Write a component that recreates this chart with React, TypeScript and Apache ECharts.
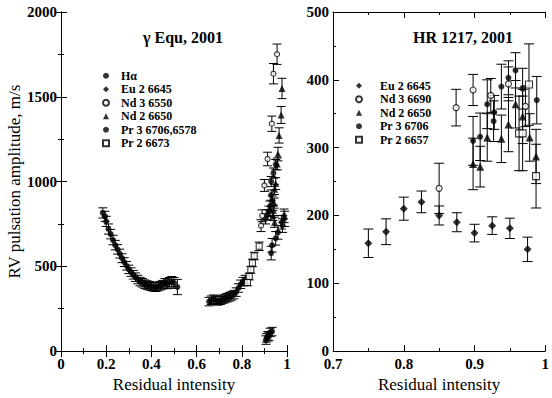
import React, { useEffect, useRef } from 'react';
import * as echarts from 'echarts';

const FONT = '"Liberation Serif", "Times New Roman", serif';

// ---- γ Equ, 2001 (left panel): [residual intensity, RV amplitude m/s, error] ----
const equHalpha: number[][] = [
  [0.185, 815, 30], [0.195, 795, 30], [0.2, 765, 30], [0.21, 720, 30], [0.22, 690, 28],
  [0.23, 655, 28], [0.24, 625, 28], [0.25, 600, 28], [0.26, 575, 26], [0.27, 548, 26],
  [0.28, 525, 26], [0.29, 503, 25], [0.3, 482, 25], [0.31, 466, 25], [0.32, 450, 25],
  [0.33, 436, 25], [0.34, 422, 25], [0.35, 410, 25], [0.36, 403, 25], [0.37, 395, 25],
  [0.38, 390, 25], [0.39, 386, 25], [0.4, 382, 25], [0.41, 379, 25], [0.42, 377, 25],
  [0.43, 381, 25], [0.44, 386, 25], [0.45, 392, 25], [0.46, 400, 28], [0.47, 396, 28],
  [0.48, 406, 28], [0.49, 410, 30], [0.5, 402, 32], [0.515, 378, 45],
  [0.655, 292, 25], [0.665, 300, 25], [0.675, 306, 25], [0.685, 300, 25], [0.695, 296, 25],
  [0.705, 300, 25], [0.715, 305, 25], [0.725, 310, 25], [0.735, 315, 25], [0.745, 320, 25],
  [0.755, 326, 25], [0.765, 333, 25], [0.775, 348, 25], [0.785, 372, 25], [0.795, 394, 25],
  [0.805, 410, 25], [0.815, 422, 25],
  [0.905, 780, 30], [0.915, 805, 30], [0.92, 825, 30], [0.925, 855, 30], [0.93, 920, 30],
  [0.935, 885, 30], [0.93, 1000, 30], [0.94, 1050, 30], [0.95, 1100, 30],
];
const equEu: number[][] = [
  [0.975, 760, 40], [0.98, 740, 40], [0.987, 798, 40], [0.99, 780, 45],
];
const equNd3: number[][] = [
  [0.956, 1751, 60], [0.94, 1636, 60], [0.933, 1341, 45], [0.914, 1133, 40],
  [0.9, 977, 35], [0.89, 798, 35], [0.885, 740, 35],
];
const equNd2: number[][] = [
  [0.978, 1549, 60], [0.974, 1393, 50], [0.965, 1272, 45], [0.96, 1162, 40],
  [0.957, 1104, 35], [0.95, 988, 35], [0.945, 954, 30], [0.943, 873, 30],
  [0.94, 830, 30], [0.938, 800, 30], [0.945, 760, 30],
];
const equPr3: number[][] = [
  [0.934, 624, 40], [0.93, 578, 40], [0.95, 665, 40], [0.96, 700, 40],
  [0.907, 65, 25], [0.91, 78, 25], [0.915, 90, 25], [0.92, 86, 25], [0.925, 110, 25], [0.934, 115, 25],
];
const equPr2: number[][] = [
  [0.825, 405, 20], [0.833, 440, 20], [0.84, 480, 20], [0.847, 520, 22],
  [0.855, 561, 22], [0.877, 618, 25],
];

// ---- HR 1217, 2001 (right panel) ----
const hrEu: number[][] = [
  [0.75, 159, 21], [0.775, 176, 19], [0.8, 210, 17], [0.825, 220, 16], [0.85, 200, 14],
  [0.875, 190, 14], [0.9, 174, 13], [0.925, 185, 13], [0.95, 181, 15], [0.975, 150, 18],
];
const hrNd3: number[][] = [
  [0.85, 240, 37], [0.874, 359, 27], [0.898, 385, 23], [0.923, 377, 25], [0.948, 394, 25], [0.972, 361, 30],
];
const hrNd2: number[][] = [
  [0.898, 276, 38], [0.908, 272, 30], [0.918, 315, 35], [0.938, 313, 35], [0.948, 334, 40],
  [0.958, 364, 35], [0.968, 346, 40], [0.978, 315, 35], [0.987, 287, 40],
];
const hrPr3: number[][] = [
  [0.898, 310, 36], [0.908, 316, 35], [0.918, 364, 36], [0.927, 339, 30], [0.928, 352, 25],
  [0.938, 390, 33], [0.948, 403, 25], [0.958, 414, 26], [0.968, 387, 30], [0.988, 370, 35],
];
const hrPr2: number[][] = [
  [0.963, 321, 55], [0.968, 321, 55], [0.977, 393, 60], [0.987, 258, 47],
];

const leftLegend = ['Hα', 'Eu 2 6645', 'Nd 3 6550', 'Nd 2 6650', 'Pr 3 6706,6578', 'Pr 2 6673'];
const rightLegend = ['Eu 2 6645', 'Nd 3 6690', 'Nd 2 6650', 'Pr 3 6706', 'Pr 2 6657'];

const filled = { color: '#000' };
const open = { color: '#fff', borderColor: '#000', borderWidth: 1.1 };

function makeSeries(name: string, data: number[][], panel: number, symbol: string, size: number, style: any, cap: number) {
  const ax = panel === 0 ? { xAxisIndex: 0, yAxisIndex: 0 } : { xAxisIndex: 2, yAxisIndex: 2 };
  return [
    {
      type: 'custom', name: name + '_err', ...ax, data, encode: { x: 0, y: 1 }, z: 1, silent: true,
      renderItem: (params: any, api: any) => {
        const x = api.value(0), y = api.value(1), e = api.value(2);
        const t = api.coord([x, y + e]);
        const b = api.coord([x, y - e]);
        const hw = cap / 2;
        const st = { stroke: '#000', lineWidth: 1 };
        return {
          type: 'group',
          children: [
            { type: 'line', shape: { x1: t[0], y1: t[1], x2: b[0], y2: b[1] }, style: st },
            { type: 'line', shape: { x1: t[0] - hw, y1: t[1], x2: t[0] + hw, y2: t[1] }, style: st },
            { type: 'line', shape: { x1: b[0] - hw, y1: b[1], x2: b[0] + hw, y2: b[1] }, style: st },
          ],
        };
      },
    },
    { type: 'scatter', name, ...ax, data: data.map((d) => [d[0], d[1]]), symbol, symbolSize: size, itemStyle: style, z: 3 },
  ];
}

const axisLine = { show: true, lineStyle: { color: '#000', width: 1 } };
const tick = { show: true, inside: true, length: 6, lineStyle: { color: '#000' } };
const minor = { show: true, splitNumber: 2, length: 3, lineStyle: { color: '#000' } };
const label = { color: '#000', fontFamily: FONT, fontSize: 15, fontWeight: 'bold' as const, formatter: (v: number) => String(v) };
const nameStyle = { color: '#000', fontFamily: FONT, fontSize: 17 };

export default function App() {
  const ref = useRef<HTMLDivElement>(null);
  useEffect(() => {
    document.body.style.margin = '0';
    const chart = echarts.init(ref.current!, null, { renderer: 'svg' });
    const series: any[] = [
      ...makeSeries('Hα', equHalpha, 0, 'circle', 6, filled, 9),
      ...makeSeries('Eu 2 6645', equEu, 0, 'diamond', 7, filled, 9),
      ...makeSeries('Nd 3 6550', equNd3, 0, 'circle', 5, open, 9),
      ...makeSeries('Nd 2 6650', equNd2, 0, 'triangle', 7, filled, 9),
      ...makeSeries('Pr 3 6706,6578', equPr3, 0, 'circle', 6, filled, 9),
      ...makeSeries('Pr 2 6673', equPr2, 0, 'rect', 6, open, 9),
      ...makeSeries('Eu 2 6645', hrEu, 1, 'diamond', 8, filled, 10),
      ...makeSeries('Nd 3 6690', hrNd3, 1, 'circle', 6, open, 10),
      ...makeSeries('Nd 2 6650', hrNd2, 1, 'triangle', 8, filled, 10),
      ...makeSeries('Pr 3 6706', hrPr3, 1, 'circle', 6, filled, 10),
      ...makeSeries('Pr 2 6657', hrPr2, 1, 'rect', 7, open, 10),
    ];
    const legendText = (pad: number) => ({ color: '#000', fontFamily: FONT, fontSize: 12, fontWeight: 'bold' as const, lineHeight: 13.5, padding: [0, 0, 0, pad] });
    chart.setOption({
      animation: false,
      backgroundColor: '#fff',
      title: [
        { text: 'γ Equ, 2001', left: 178, top: 24, textAlign: 'center', textStyle: { color: '#000', fontFamily: FONT, fontSize: 16, fontWeight: 'bold' } },
        { text: 'HR 1217, 2001', left: 458, top: 24, textAlign: 'center', textStyle: { color: '#000', fontFamily: FONT, fontSize: 16, fontWeight: 'bold' } },
      ],
      legend: [
        { data: leftLegend, orient: 'vertical', left: 97, top: 64, itemWidth: 6, itemHeight: 6, itemGap: 0, textStyle: legendText(7), selectedMode: false },
        { data: rightLegend, orient: 'vertical', left: 350, top: 74, itemWidth: 6, itemHeight: 6, itemGap: 0, textStyle: legendText(13), selectedMode: false },
      ],
      grid: [
        { left: 61, top: 12, width: 226, height: 346 },
        { left: 333, top: 12, width: 225, height: 346 },
      ],
      xAxis: [
        { gridIndex: 0, type: 'value', min: 0, max: 1, interval: 0.2, position: 'bottom', axisLine, axisTick: tick, minorTick: minor,
          axisLabel: { ...label, margin: 5 }, splitLine: { show: false },
          name: 'Residual intensity', nameLocation: 'middle', nameGap: 19, nameTextStyle: nameStyle },
        { gridIndex: 0, type: 'value', min: 0, max: 1, interval: 0.2, position: 'top', axisLine, axisTick: tick, minorTick: minor,
          axisLabel: { show: false }, splitLine: { show: false } },
        { gridIndex: 1, type: 'value', min: 0.7, max: 1.0, interval: 0.1, position: 'bottom', axisLine, axisTick: tick, minorTick: minor,
          axisLabel: { ...label, margin: 5 }, splitLine: { show: false },
          name: 'Residual intensity', nameLocation: 'middle', nameGap: 19, nameTextStyle: nameStyle },
        { gridIndex: 1, type: 'value', min: 0.7, max: 1.0, interval: 0.1, position: 'top', axisLine, axisTick: tick, minorTick: minor,
          axisLabel: { show: false }, splitLine: { show: false } },
      ],
      yAxis: [
        { gridIndex: 0, type: 'value', min: 0, max: 2000, interval: 500, position: 'left', axisLine, axisTick: tick, minorTick: minor,
          axisLabel: { ...label, margin: 4 }, splitLine: { show: false },
          name: 'RV pulsation amplitude, m/s', nameLocation: 'middle', nameGap: 33, nameTextStyle: nameStyle },
        { gridIndex: 0, type: 'value', min: 0, max: 2000, interval: 500, position: 'right', axisLine, axisTick: tick, minorTick: minor,
          axisLabel: { show: false }, splitLine: { show: false } },
        { gridIndex: 1, type: 'value', min: 0, max: 500, interval: 100, position: 'left', axisLine, axisTick: tick, minorTick: minor,
          axisLabel: { ...label, margin: 4 }, splitLine: { show: false } },
      ],
      series,
    });
    return () => chart.dispose();
  }, []);
  return <div ref={ref} style={{ width: 552, height: 398 }} />;
}
